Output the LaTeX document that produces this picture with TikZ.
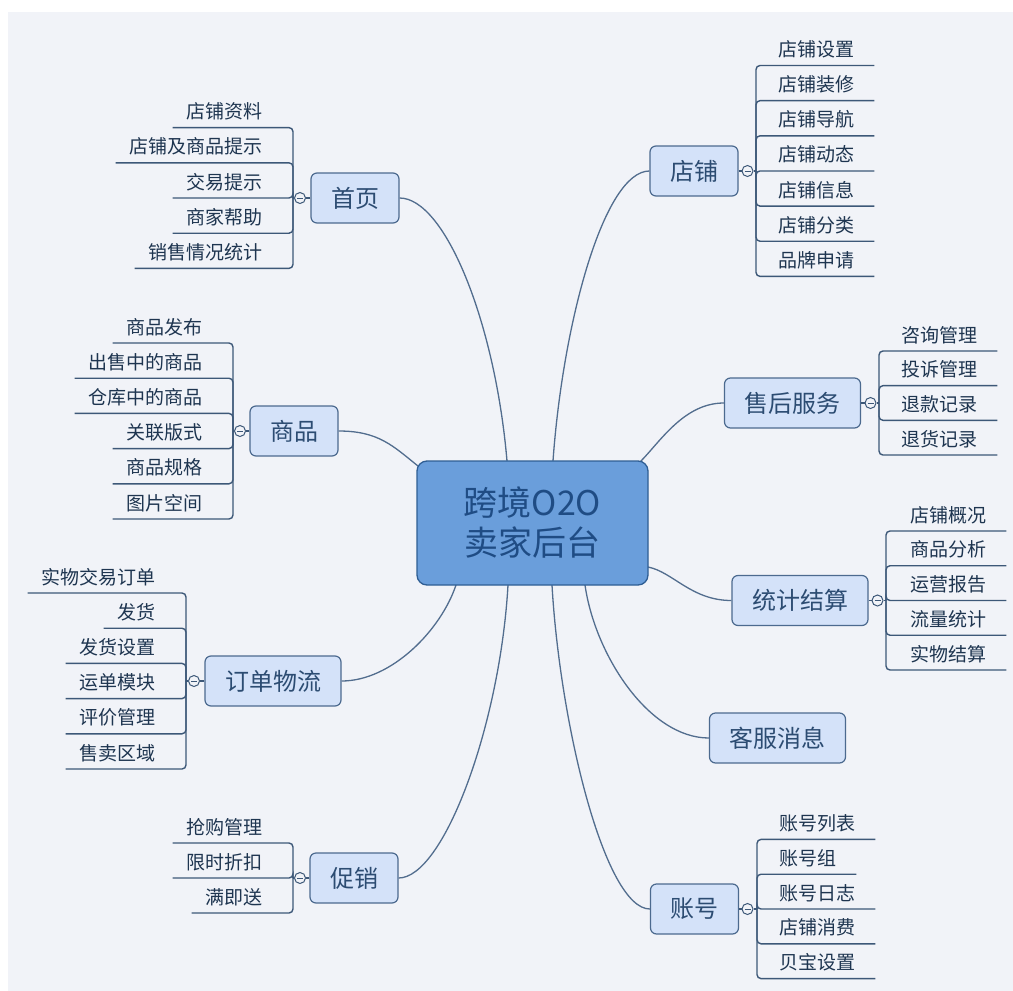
\documentclass[tikz,border=0pt]{standalone}
\usepackage{fontspec}
\setmainfont{Noto Sans CJK SC}
\usetikzlibrary{calc}
\definecolor{bg}{HTML}{F1F3F8}
\definecolor{mainfill}{HTML}{6A9EDB}
\definecolor{mainline}{HTML}{2F5E94}
\definecolor{maintext}{HTML}{1F4C84}
\definecolor{topicfill}{HTML}{D4E2F9}
\definecolor{topicline}{HTML}{4C6A8F}
\definecolor{topictext}{HTML}{2C4C72}
\definecolor{linecol}{HTML}{3D5878}
\definecolor{conncol}{HTML}{526D8E}
\definecolor{kidtext}{HTML}{1E3550}
\tikzset{
  topic/.style={draw=topicline, fill=topicfill, rounded corners=6pt, line width=1.2pt,
    minimum height=50pt, inner xsep=20pt, inner ysep=0pt,
    font=\fontsize{24}{28}\selectfont, text=topictext},
  mainbox/.style={draw=mainline, fill=mainfill, rounded corners=10pt, line width=1.3pt,
    minimum width=231pt, minimum height=124pt, align=center,
    font=\fontsize{34}{40}\selectfont, text=maintext},
  kidR/.style={anchor=south west, inner xsep=20pt, inner ysep=0pt, text height=16pt,
    text depth=8.8pt, font=\fontsize{19}{22}\selectfont, text=kidtext},
  kidL/.style={anchor=south east, inner xsep=14pt, inner ysep=0pt, text height=16pt,
    text depth=8.8pt, font=\fontsize{19}{22}\selectfont, text=kidtext},
  tog/.style={circle, draw=linecol, fill=bg, minimum size=11pt, inner sep=0pt, line width=1pt,
    path picture={\draw[linecol, line width=0.9pt]
      ($(path picture bounding box.west)+(2.5,0)$) -- ($(path picture bounding box.east)+(-2.5,0)$);}},
  link/.style={draw=linecol, line width=1.4pt, rounded corners=4pt},
  conn/.style={draw=conncol, line width=1.3pt}
}
\begin{document}
\begin{tikzpicture}[x=1pt,y=-1pt]
\useasboundingbox (0,0) rectangle (1013,991);
\fill[bg] (8,12) rectangle (1013,991);

% central endpoints
\coordinate (p1) at (507,461);
\coordinate (p2) at (553,461);
\coordinate (p3) at (418,466);
\coordinate (p4) at (640,462);
\coordinate (p5) at (648,567);
\coordinate (p6) at (456,585);
\coordinate (p7) at (585,585);
\coordinate (p8) at (508,585);
\coordinate (p9) at (552,585);

% topics
\node[topic] (t1) at (355,198) {首页};
\node[topic] (t2) at (694,171) {店铺};
\node[topic] (t3) at (294,431) {商品};
\node[topic] (t4) at (792.5,403) {售后服务};
\node[topic] (t5) at (800,600.5) {统计结算};
\node[topic] (t6) at (273,681) {订单物流};
\node[topic] (t7) at (777.5,738) {客服消息};
\node[topic] (t8) at (354,878) {促销};
\node[topic] (t9) at (694.5,909) {账号};

% curved connectors
\draw[conn] (t1.east) .. controls +(45,0) and +(-12,-140) .. (p1);
\draw[conn] (t2.west) .. controls +(-45,0) and +(10,-140) .. (p2);
\draw[conn] (t3.east) .. controls +(40,0) and +(-25,-20) .. (p3);
\draw[conn] (t4.west) .. controls +(-40,0) and +(20,-20) .. (p4);
\draw[conn] (t5.west) .. controls +(-40,0) and +(25,5) .. (p5);
\draw[conn] (t6.east) .. controls +(50,0) and +(-15,45) .. (p6);
\draw[conn] (t7.west) .. controls +(-60,0) and +(10,70) .. (p7);
\draw[conn] (t8.east) .. controls +(45,0) and +(-8,140) .. (p8);
\draw[conn] (t9.west) .. controls +(-45,0) and +(8,140) .. (p9);

\node[mainbox] (ctr) at (532.5,523) {跨境O2O\\卖家后台};

% toggles and bracket origins
\node[tog] (c1) at (300,198) {};
\node[tog] (c2) at (747.5,171) {};
\node[tog] (c3) at (240,431) {};
\node[tog] (c4) at (870.5,403) {};
\node[tog] (c5) at (877.5,600.5) {};
\node[tog] (c6) at (194,681) {};
\node[tog] (c8) at (300,878) {};
\node[tog] (c9) at (747.5,909) {};
\coordinate (v1) at (293,198);
\coordinate (v2) at (756,171);
\coordinate (v3) at (233,431);
\coordinate (v4) at (879,403);
\coordinate (v5) at (886,600.5);
\coordinate (v6) at (186,681);
\coordinate (v8) at (293,878);
\coordinate (v9) at (757,909);
\draw[link] (t1.west) -- (c1.east);
\draw[link] (t2.east) -- (c2.west);
\draw[link] (t3.west) -- (c3.east);
\draw[link] (t4.east) -- (c4.west);
\draw[link] (t5.east) -- (c5.west);
\draw[link] (t6.west) -- (c6.east);
\draw[link] (t8.west) -- (c8.east);
\draw[link] (t9.east) -- (c9.west);
\draw[link] (c1.west) -- (v1);
\draw[link] (c2.east) -- (v2);
\draw[link] (c3.west) -- (v3);
\draw[link] (c4.east) -- (v4);
\draw[link] (c5.east) -- (v5);
\draw[link] (c6.west) -- (v6);
\draw[link] (c8.west) -- (v8);
\draw[link] (c9.east) -- (v9);

% 首页
\foreach \t [count=\i] in {店铺资料,店铺及商品提示,交易提示,商家帮助,销售情况统计}{
  \node[kidL] (a\i) at (277,{127.6+(\i-1)*35.2}) {\t};
  \draw[link] (v1) |- (a\i.south west);
}
% 店铺
\foreach \t [count=\i] in {店铺设置,店铺装修,店铺导航,店铺动态,店铺信息,店铺分类,品牌申请}{
  \node[kidR] (b\i) at (758,{65.5+(\i-1)*35.15}) {\t};
  \draw[link] (v2) |- (b\i.south east);
}
% 商品
\foreach \t [count=\i] in {商品发布,出售中的商品,仓库中的商品,关联版式,商品规格,图片空间}{
  \node[kidL] (g\i) at (217,{343+(\i-1)*35.2}) {\t};
  \draw[link] (v3) |- (g\i.south west);
}
% 售后服务
\foreach \t [count=\i] in {咨询管理,投诉管理,退款记录,退货记录}{
  \node[kidR] (s\i) at (881,{351+(\i-1)*34.67}) {\t};
  \draw[link] (v4) |- (s\i.south east);
}
% 统计结算
\foreach \t [count=\i] in {店铺概况,商品分析,运营报告,流量统计,实物结算}{
  \node[kidR] (j\i) at (890,{531+(\i-1)*34.75}) {\t};
  \draw[link] (v5) |- (j\i.south east);
}
% 订单物流
\foreach \t [count=\i] in {实物交易订单,发货,发货设置,运单模块,评价管理,售卖区域}{
  \node[kidL] (d\i) at (170,{593+(\i-1)*35.2}) {\t};
  \draw[link] (v6) |- (d\i.south west);
}
% 促销
\foreach \t [count=\i] in {抢购管理,限时折扣,满即送}{
  \node[kidL] (x\i) at (277,{843+(\i-1)*35}) {\t};
  \draw[link] (v8) |- (x\i.south west);
}
% 账号
\foreach \t [count=\i] in {账号列表,账号组,账号日志,店铺消费,贝宝设置}{
  \node[kidR] (z\i) at (759,{839.4+(\i-1)*34.8}) {\t};
  \draw[link] (v9) |- (z\i.south east);
}
\end{tikzpicture}
\end{document}
